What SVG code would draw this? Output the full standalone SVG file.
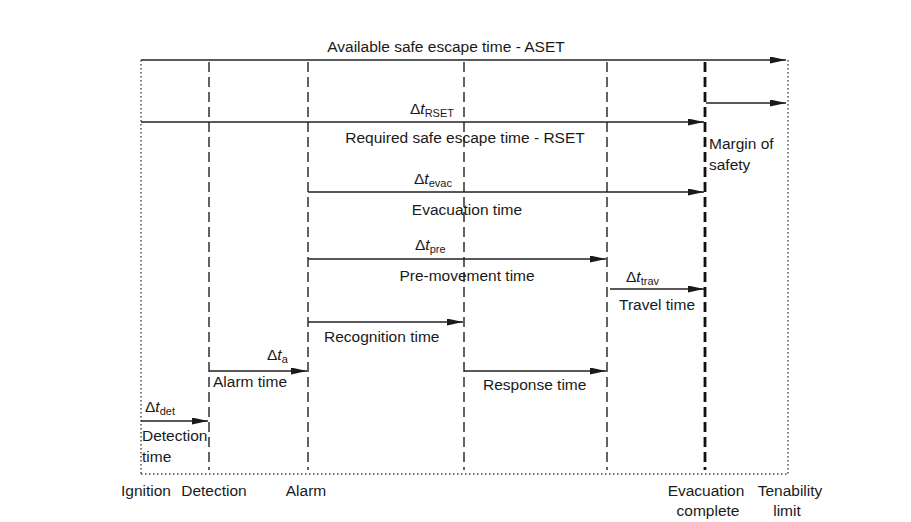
<svg xmlns="http://www.w3.org/2000/svg" width="911" height="522" viewBox="0 0 911 522">
<style>
text{font-family:"Liberation Sans","DejaVu Sans",sans-serif;font-size:15.5px;fill:#1a1a1a}
.m{text-anchor:middle}
.sub{font-size:11px}
.it{font-style:italic}
.dash{stroke:#222;stroke-width:1.4;stroke-dasharray:10,5;fill:none}
.thick{stroke:#111;stroke-width:2.8;stroke-dasharray:10,5;fill:none}
.dot{stroke:#444;stroke-width:1.4;stroke-dasharray:1.5,2.5;fill:none}
.arr{stroke:#222;stroke-width:1.5;fill:none;marker-end:url(#ah)}
</style>
<defs>
<marker id="ah" viewBox="0 0 16 7" refX="16" refY="3.5" markerWidth="16" markerHeight="7" markerUnits="userSpaceOnUse" orient="auto">
<path d="M0,0 L16,3.5 L0,7 Z" fill="#1a1a1a"/>
</marker>
</defs>
<rect width="911" height="522" fill="#fff"/>
<g id="frame">
<line class="dot" x1="141" y1="60" x2="141" y2="474"/>
<line class="dot" x1="788" y1="60" x2="788" y2="474"/>
<line class="dot" x1="141" y1="474" x2="788" y2="474"/>
<line class="dash" x1="209" y1="62" x2="209" y2="470"/>
<line class="dash" x1="308" y1="62" x2="308" y2="470"/>
<line class="dash" x1="464" y1="62" x2="464" y2="470"/>
<line class="dash" x1="607" y1="62" x2="607" y2="470"/>
<line class="thick" x1="705" y1="62" x2="705" y2="470"/>
</g>
<g id="connectors">
<line class="arr" x1="141" y1="60" x2="786" y2="60"/>
<line class="arr" x1="706" y1="103" x2="786" y2="103"/>
<line class="arr" x1="141" y1="122" x2="704" y2="122"/>
<line class="arr" x1="308" y1="192" x2="704" y2="192"/>
<line class="arr" x1="308" y1="259" x2="606" y2="259"/>
<line class="arr" x1="610" y1="289" x2="704" y2="289"/>
<line class="arr" x1="308" y1="322" x2="463" y2="322"/>
<line class="arr" x1="209" y1="371" x2="307" y2="371"/>
<line class="arr" x1="464" y1="371" x2="606" y2="371"/>
<line class="arr" x1="141" y1="421" x2="208" y2="421"/>
</g>
<g id="aset"><text class="m" x="446" y="52">Available safe escape time - ASET</text></g>
<g id="rset">
<text x="410" y="114">Δ<tspan class="it">t</tspan><tspan class="sub" dy="3">RSET</tspan></text>
<text class="m" x="465" y="143">Required safe escape time - RSET</text>
</g>
<g id="margin">
<text x="709" y="149">Margin of</text>
<text x="709" y="170">safety</text>
</g>
<g id="evac">
<text x="414" y="184">Δ<tspan class="it">t</tspan><tspan class="sub" dy="3">evac</tspan></text>
<text class="m" x="467" y="215">Evacuation time</text>
</g>
<g id="pre">
<text x="415" y="250">Δ<tspan class="it">t</tspan><tspan class="sub" dy="3">pre</tspan></text>
<text class="m" x="467" y="281">Pre-movement time</text>
</g>
<g id="trav">
<text x="626" y="282">Δ<tspan class="it">t</tspan><tspan class="sub" dy="3">trav</tspan></text>
<text x="619" y="310">Travel time</text>
</g>
<g id="recognition"><text x="324" y="342">Recognition time</text></g>
<g id="alarmtime">
<text x="267" y="360">Δ<tspan class="it">t</tspan><tspan class="sub" dy="3">a</tspan></text>
<text x="213" y="387">Alarm time</text>
</g>
<g id="response"><text x="483" y="390">Response time</text></g>
<g id="dettime">
<text x="145" y="412">Δ<tspan class="it">t</tspan><tspan class="sub" dy="3">det</tspan></text>
<text x="142" y="441">Detection</text>
<text x="142" y="462">time</text>
</g>
<g id="labels">
<text class="m" x="146" y="496">Ignition</text>
<text class="m" x="214" y="496">Detection</text>
<text class="m" x="306" y="496">Alarm</text>
<text class="m" x="706" y="496">Evacuation</text>
<text class="m" x="708" y="516">complete</text>
<text class="m" x="790" y="496">Tenability</text>
<text class="m" x="787" y="516">limit</text>
</g>
</svg>
